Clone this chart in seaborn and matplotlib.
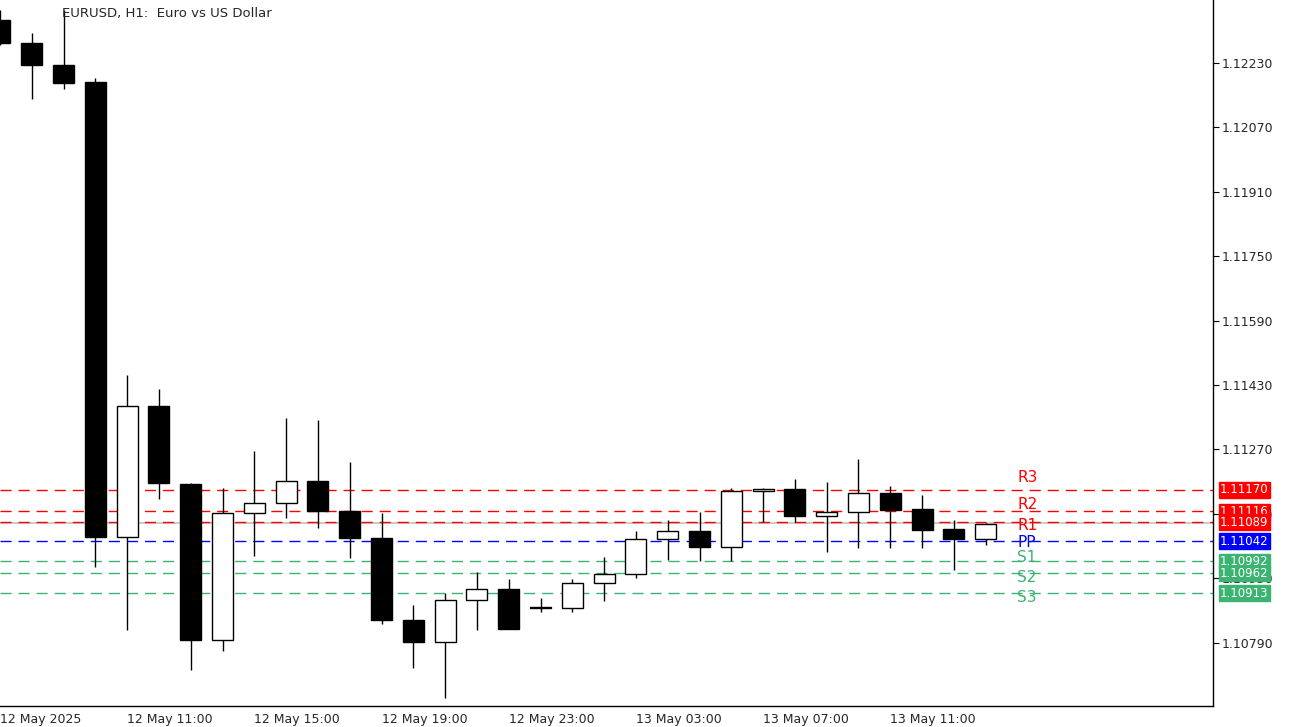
import matplotlib
matplotlib.use("Agg")
import matplotlib.pyplot as plt
import seaborn as sns
import numpy as np

sns.set_style("white")
plt.rcParams['font.family'] = ['DejaVu Sans']

opens  = [1.12337,1.12280,1.12225,1.12183,1.11053,1.11378,1.11185,1.10797,1.11113,1.11137,1.11192,1.11118,1.11051,1.10847,1.10792,1.10897,
          1.10924,1.10879,1.10877,1.10939,1.10961,1.11048,1.11068,1.11028,1.11167,1.11172,1.11105,1.11115,1.11162,1.11123,1.11073,1.11048]
closes = [1.12280,1.12225,1.12180,1.11053,1.11378,1.11187,1.10797,1.11113,1.11137,1.11192,1.11118,1.11051,1.10847,1.10792,1.10897,1.10924,
          1.10825,1.10877,1.10939,1.10961,1.11048,1.11068,1.11028,1.11167,1.11172,1.11105,1.11115,1.11162,1.11120,1.11070,1.11048,1.11085]
highs  = [1.12362,1.12304,1.12362,1.12193,1.11455,1.11421,1.11187,1.11175,1.11267,1.11349,1.11344,1.11239,1.11113,1.10884,1.10914,1.10966,
          1.10949,1.10902,1.10949,1.11003,1.11068,1.11095,1.11115,1.11175,1.11175,1.11197,1.11190,1.11247,1.11180,1.11157,1.11095,1.11088]
lows   = [1.12275,1.12141,1.12165,1.10979,1.10822,1.11147,1.10723,1.10770,1.11006,1.11100,1.11075,1.11001,1.10837,1.10728,1.10653,1.10822,
          1.10825,1.10867,1.10867,1.10894,1.10951,1.10996,1.10993,1.10993,1.11090,1.11090,1.11016,1.11026,1.11026,1.11026,1.10971,1.11033]

level_names  = ["R3","R2","R1","PP","S1","S2","S3"]
level_values = [1.11170,1.11116,1.11089,1.11042,1.10992,1.10962,1.10913]
level_colors = ["#ff0000","#ff0000","#ff0000","#0000ff","#3cb371","#3cb371","#3cb371"]
label_offsets = [9,5,-2,-1,3,-3,-3]
bid = 1.11087

ytick_vals = [1.10790,1.10950,1.11110,1.11270,1.11430,1.11590,1.11750,1.11910,1.12070,1.12230]
xtick_idx = [0,4,8,12,16,20,24,28]
xtick_lbl = ["12 May 2025","12 May 11:00","12 May 15:00","12 May 19:00","12 May 23:00",
             "13 May 03:00","13 May 07:00","13 May 11:00"]

W,H = 1291,727
fig = plt.figure(figsize=(W/100,H/100), dpi=100)
ax = fig.add_axes([0, 1-706/H, 1213/W, 706/H])

idx = np.arange(len(opens))
o = np.array(opens); c = np.array(closes)
ax.vlines(idx, lows, highs, color="black", lw=1, zorder=3)
up = c >= o
bot = np.minimum(o,c); hgt = np.maximum(np.abs(c-o), 0.000012)
ax.bar(idx[up], hgt[up], bottom=bot[up], width=0.66, color="white", edgecolor="black", lw=1, zorder=4)
ax.bar(idx[~up], hgt[~up], bottom=bot[~up], width=0.66, color="black", edgecolor="black", lw=1, zorder=4)

ax.axhline(bid, color="#c0c0c0", lw=1.2, zorder=1)
for n,v,col,off in zip(level_names, level_values, level_colors, label_offsets):
    ax.axhline(v, color=col, lw=1, ls=(0,(8,5)), zorder=2)
    ax.annotate(n, (32, v), xytext=(0, off), textcoords="offset points", color=col,
                fontsize=11, va="center", ha="left", annotation_clip=False)
    ax.annotate(f"{v:.5f}", (1.0, v), xycoords=("axes fraction","data"), xytext=(5,0),
                textcoords="offset points", color="white", fontsize=8.5, va="center", ha="left",
                bbox=dict(boxstyle="square,pad=0.12", fc=col, ec=col), annotation_clip=False, zorder=10)

ax.set_xlim(0.25, 38.15)
ax.set_ylim(1.10633, 1.12386)
ax.yaxis.tick_right()
ax.set_yticks(ytick_vals)
ax.set_yticklabels([f"{v:.5f}" for v in ytick_vals], fontsize=9)
ax.set_xticks(xtick_idx)
ax.set_xticklabels(xtick_lbl, fontsize=9, ha="left")
ax.tick_params(axis="both", length=4, direction="out", color="black", pad=2)
ax.tick_params(axis="x", length=3)
for s in ["top","left"]:
    ax.spines[s].set_visible(False)
for s in ["right","bottom"]:
    ax.spines[s].set_color("black"); ax.spines[s].set_linewidth(1)

fig.text(62/W, 1-14/H, "EURUSD, H1:  Euro vs US Dollar", fontsize=9.5, va="center", ha="left")
fig.savefig("out.png", dpi=100)
